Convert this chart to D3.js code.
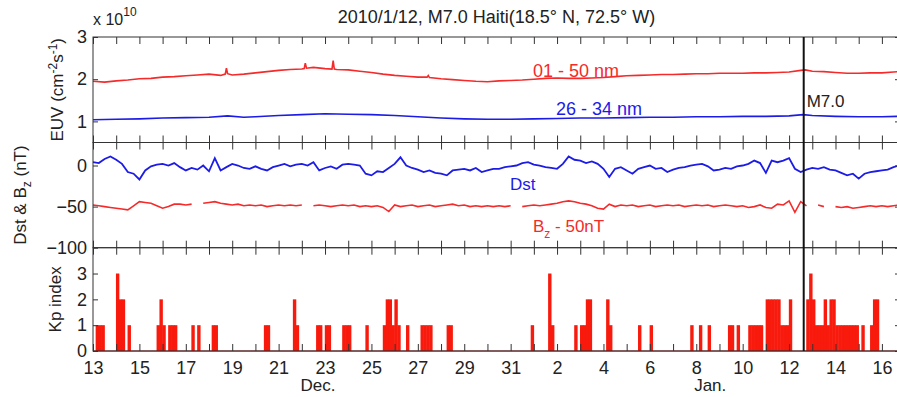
<!DOCTYPE html>
<html>
<head>
<meta charset="utf-8">
<script src="https://cdn.jsdelivr.net/npm/d3@7"></script>
<style>
  body { margin: 0; background: #fff; }
  text { font-family: "Liberation Sans", Arial, sans-serif; fill: #222; }
</style>
</head>
<body>
<div id="chart"></div>
<script>
// days are counted from 2009-12-13 00:00 UT
const xTickDays = [0, 2, 4, 6, 8, 10, 12, 14, 16, 18, 20, 22, 24, 26, 28, 30, 32, 34];
const xTickLabels = ['13', '15', '17', '19', '21', '23', '25', '27', '29', '31', '2', '4', '6', '8', '10', '12', '14', '16'];
const monthDays = [9.7, 26.6];
const monthLabels = ['Dec.', 'Jan.'];
const quakeDay = 30.63;

// EUV flux (x 1e10 cm^-2 s^-1)
const euvHiDay = [0, 0.5, 1, 1.5, 2, 2.5, 3, 3.5, 4, 4.5, 5, 5.5, 5.7, 5.75, 5.8, 6, 6.5, 7, 7.5, 8, 8.5, 9, 9.1, 9.15, 9.2,
  9.5, 10, 10.3, 10.35, 10.4, 10.5, 11, 11.5, 12, 12.5, 13, 13.5, 14, 14.4, 14.45, 14.5, 15, 15.5, 16, 16.5, 17, 17.5,
  18, 18.5, 19, 19.5, 20, 20.5, 21, 21.5, 22, 22.5, 23, 23.5, 24, 24.5, 25, 25.5, 26, 26.5, 27, 27.5, 28, 28.5, 29, 29.5,
  30, 30.5, 30.7, 31, 31.5, 32, 32.5, 33, 33.5, 34, 34.5, 34.8];
const euvHi = [1.95, 1.93, 1.96, 1.98, 2.01, 2.02, 2.05, 2.06, 2.08, 2.10, 2.12, 2.09, 2.12, 2.26, 2.13, 2.10, 2.12, 2.15, 2.18, 2.21, 2.23, 2.24, 2.25, 2.38, 2.26,
  2.28, 2.25, 2.24, 2.44, 2.24, 2.23, 2.22, 2.19, 2.16, 2.12, 2.09, 2.07, 2.05, 2.05, 2.09, 2.04, 2.01, 1.99, 1.97, 1.95, 1.94, 1.96,
  1.97, 1.98, 2.00, 2.02, 2.03, 2.02, 2.02, 2.03, 2.04, 2.06, 2.08, 2.09, 2.10, 2.11, 2.11, 2.12, 2.13, 2.13, 2.14, 2.14, 2.14, 2.15, 2.15, 2.16,
  2.17, 2.21, 2.22, 2.19, 2.18, 2.16, 2.14, 2.14, 2.15, 2.15, 2.17, 2.18];

const euvLoDay = [0, 1, 2, 3, 4, 5, 5.8, 6.5, 7, 8, 9, 10, 11, 12, 13, 14, 15, 16, 17, 18, 19, 20, 21, 22, 23, 24, 25,
  26, 27, 28, 29, 30, 30.6, 31, 32, 33, 34, 34.8];
const euvLo = [1.04, 1.05, 1.06, 1.08, 1.09, 1.10, 1.13, 1.10, 1.11, 1.14, 1.16, 1.18, 1.17, 1.16, 1.14, 1.11, 1.08, 1.06, 1.05, 1.05, 1.06, 1.07, 1.08, 1.08, 1.09, 1.10, 1.10,
  1.11, 1.11, 1.12, 1.12, 1.13, 1.16, 1.14, 1.12, 1.11, 1.11, 1.12];

// Dst and Bz-50 (nT), one value every 6 hours
const stepDays = 0.25;
const dst = [4, 3, 8, 11, 7, 2, -8, -10, -17, -6, -1, 1, 2, 0, 3, -2, -6, -3, -5, 0, -7, 9, -6, -2,
  2, 0, -3, -4, -1, -4, -6, -2, 0, 2, -1, 1, 2, 0, 4, -6, -3, -1, -4, 1, 2, 1, 0, -10,
  -12, -7, -8, -3, 2, 10, 0, -3, -5, -8, -6, -9, -10, -12, -6, -5, -4, -6, -3, -8, -6, -4, -4, -2,
  -1, 0, 3, 4, 1, 0, -2, -3, -4, 2, 11, 7, 6, 3, 5, 2, -4, -14, -4, -2, -6, -10, -4, -2,
  0, -4, -3, -8, -5, -3, -2, 0, 1, 2, -1, -6, -5, -3, -4, -1, 0, 2, 6, 3, -9, 6, 4, 6,
  9, -4, -8, -5, -3, -4, -2, -5, -6, -9, -12, -10, -16, -10, -8, -7, -6, -5, -2, 0];
const bz = [-48, -49, -50, -51, -52, -53, -54, -49, -44, -45, -46, -49, -52, -50, -47, -47, -48, -47, null, -46, -45, -44, -46, -47,
  -48, -47, -49, -48, -49, -48, -50, -49, -48, -49, -48, -49, -48, null, -49, -48, -49, -50, -49, -48, -49, -48, -50, -49,
  -50, -49, -51, -56, -48, -50, -49, -48, -50, -49, -48, -50, -49, -48, -47, -49, -48, -50, -49, -50, -49, -50, -49, -50,
  -49, null, -50, -49, -48, -49, -48, -47, -46, -44, -43, -44, -46, -47, -49, -52, -53, -47, -50, -48, -49, -48, -50, -49,
  -48, -50, -49, -48, -49, -48, -50, -49, -48, -49, -48, -50, -49, -48, -49, -50, -49, -51, -50, -48, -51, -52, -47, -48,
  -43, -57, -44, -49, null, -48, -50, null, -50, -51, -50, -52, -51, -50, -49, -50, -49, -50, -49, -48];

// Kp index, 3-hour intervals that are not zero (start day, value)
const kpDay = [0.125, 0.25, 0.375, 1.0, 1.125, 1.25, 1.5, 2.75, 2.875, 3.0, 3.25, 3.375, 3.5, 4.25, 4.5, 5.125, 5.25,
  7.375, 7.5, 8.625, 8.75, 9.625, 9.75, 10.0, 10.125, 10.75, 10.875, 11.0, 11.75,
  12.5, 12.625, 12.75, 12.875, 13.0, 13.125, 13.5, 14.125, 14.25, 14.375, 14.5, 15.25, 15.375,
  18.875, 19.625, 19.75, 20.75, 21.0, 21.125, 21.25, 21.375, 22.125, 22.25, 23.5, 24.0,
  25.75, 26.125, 26.5, 27.375, 27.5, 27.75, 28.25, 28.375, 28.5, 28.625, 28.75,
  29.0, 29.125, 29.25, 29.375, 29.5, 29.625, 29.75, 29.875, 30.0,
  30.75, 30.875, 31.0, 31.125, 31.25, 31.375, 31.5, 31.625, 31.75, 31.875,
  32.0, 32.125, 32.25, 32.375, 32.5, 32.625, 32.75, 32.875, 33.125, 33.5, 33.625, 33.75];
const kpValue = [1, 1, 1, 3, 2, 2, 1, 1, 2, 1, 1, 1, 1, 1, 1, 1, 1,
  1, 1, 2, 1, 1, 1, 1, 1, 1, 1, 1, 1,
  1, 2, 2, 1, 2, 1, 1, 1, 1, 1, 1, 1, 1,
  1, 3, 1, 1, 1, 1, 2, 2, 2, 1, 1, 1,
  1, 1, 1, 1, 1, 1, 1, 1, 1, 1, 1,
  2, 2, 2, 2, 2, 1, 1, 1, 2,
  2, 3, 2, 1, 1, 1, 2, 1, 2, 2,
  1, 1, 1, 1, 1, 1, 1, 1, 1, 1, 2, 2];

const width = 897;
const height = 397;
const left = 93, right = 900;
const tops = [37, 142.5, 247.7];
const bottom = 351;
const red = '#f52a2a', blue = '#1c1ce6', axisColor = '#333';

const svg = d3.select('#chart')
  .append('svg')
  .attr('width', width)
  .attr('height', height);

const x = d3.scaleLinear().domain([0, 34.78]).range([left, right]);
const yEuv = d3.scaleLinear().domain([0.5, 3]).range([tops[1], tops[0]]);
const yDst = d3.scaleLinear().domain([-100, 28]).range([tops[2], tops[1]]);
const yKp = d3.scaleLinear().domain([0, 4]).range([bottom, tops[2]]);

const panels = [
  { y: yEuv, ticks: [1, 2, 3] },
  { y: yDst, ticks: [-100, -50, 0] },
  { y: yKp, ticks: [0, 1, 2, 3] }
];

// Kp bars, a little overlap so neighbours merge
svg.append('g')
  .attr('fill', '#f81a0c')
  .selectAll('rect')
  .data(kpDay)
  .join('rect')
    .attr('x', d => x(d) - 0.25)
    .attr('y', (d, i) => yKp(kpValue[i]))
    .attr('width', d => x(d + 0.125) - x(d) + 0.5)
    .attr('height', (d, i) => yKp(0) - yKp(kpValue[i]));

// lines
const euvLine = (days, vals) => d3.line()
  .x((d, i) => x(days[i]))
  .y(d => yEuv(d))(vals);

svg.append('path')
  .attr('d', euvLine(euvHiDay, euvHi))
  .attr('fill', 'none').attr('stroke', red).attr('stroke-width', 1.6);
svg.append('path')
  .attr('d', euvLine(euvLoDay, euvLo))
  .attr('fill', 'none').attr('stroke', blue).attr('stroke-width', 1.6);

const stepLine = d3.line()
  .defined(d => d !== null)
  .x((d, i) => x(i * stepDays))
  .y(d => yDst(d));

svg.append('path')
  .attr('d', stepLine(dst))
  .attr('fill', 'none').attr('stroke', blue).attr('stroke-width', 1.8);
svg.append('path')
  .attr('d', stepLine(bz))
  .attr('fill', 'none').attr('stroke', red).attr('stroke-width', 1.6);

// Kp baseline
svg.append('line')
  .attr('x1', left).attr('x2', right)
  .attr('y1', bottom).attr('y2', bottom)
  .attr('stroke', '#a01010').attr('stroke-width', 1.2);

// panel frames and ticks
const dayTicks = d3.range(0, 35);
panels.forEach((p, k) => {
  const y0 = p.y.range()[0], y1 = p.y.range()[1];
  svg.append('rect')
    .attr('x', left).attr('y', y1)
    .attr('width', right - left).attr('height', y0 - y1)
    .attr('fill', 'none').attr('stroke', axisColor).attr('stroke-width', 1);

  svg.append('g')
    .attr('transform', `translate(0,${y1})`)
    .call(d3.axisBottom(x).tickValues(dayTicks).tickSize(7).tickFormat(''))
    .call(g => g.select('.domain').remove())
    .selectAll('line').attr('stroke', axisColor);
  svg.append('g')
    .attr('transform', `translate(0,${y0})`)
    .call(d3.axisTop(x).tickValues(dayTicks).tickSize(7).tickFormat(''))
    .call(g => g.select('.domain').remove())
    .selectAll('line').attr('stroke', axisColor);

  const ya = svg.append('g')
    .attr('transform', `translate(${left},0)`)
    .call(d3.axisLeft(p.y).tickValues(p.ticks).tickSize(-5).tickPadding(6).tickFormat(d3.format('d')))
    .call(g => g.select('.domain').remove());
  ya.selectAll('line').attr('stroke', axisColor);
  ya.selectAll('text').attr('font-size', 18).attr('font-family', null);

  svg.append('g')
    .attr('transform', `translate(${right},0)`)
    .call(d3.axisRight(p.y).tickValues(p.ticks).tickSize(-5).tickFormat(''))
    .call(g => g.select('.domain').remove())
    .selectAll('line').attr('stroke', axisColor);
});

// x labels
const xa = svg.append('g')
  .attr('transform', `translate(0,${bottom})`)
  .call(d3.axisBottom(x).tickValues(xTickDays).tickFormat((d, i) => xTickLabels[i]).tickSize(0).tickPadding(10))
  .call(g => g.select('.domain').remove());
xa.selectAll('text').attr('font-size', 18).attr('font-family', null);

svg.selectAll('.month')
  .data(monthDays)
  .join('text')
    .attr('class', 'month')
    .attr('x', d => x(d))
    .attr('y', 391)
    .attr('text-anchor', 'middle')
    .attr('font-size', 17)
    .text((d, i) => monthLabels[i]);

// earthquake line
svg.append('line')
  .attr('x1', x(quakeDay)).attr('x2', x(quakeDay))
  .attr('y1', tops[0]).attr('y2', bottom)
  .attr('stroke', '#111').attr('stroke-width', 2);
svg.append('text')
  .attr('x', x(quakeDay) + 3).attr('y', 107)
  .attr('font-size', 17)
  .text('M7.0');

// title and scale factor
svg.append('text')
  .attr('x', (left + right) / 2).attr('y', 23)
  .attr('text-anchor', 'middle')
  .attr('font-size', 18)
  .text('2010/1/12, M7.0 Haiti(18.5° N, 72.5° W)');

const sf = svg.append('text').attr('x', left).attr('y', 25).attr('font-size', 16);
sf.append('tspan').text('x 10');
sf.append('tspan').attr('dy', -9).attr('font-size', 12).text('10');

// series annotations
svg.append('text').attr('x', 533).attr('y', 77).attr('font-size', 18)
  .style('fill', red).text('01 - 50 nm');
svg.append('text').attr('x', 556).attr('y', 115).attr('font-size', 18)
  .style('fill', blue).text('26 - 34 nm');
svg.append('text').attr('x', 510).attr('y', 190).attr('font-size', 17)
  .style('fill', blue).text('Dst');
const bzLabel = svg.append('text').attr('x', 533).attr('y', 232).attr('font-size', 17)
  .style('fill', red);
bzLabel.append('tspan').text('B');
bzLabel.append('tspan').attr('dy', 6).attr('font-size', 12).text('z');
bzLabel.append('tspan').attr('dy', -6).text(' - 50nT');

// y titles
const euvTitle = svg.append('text')
  .attr('transform', `translate(63,${(tops[0] + tops[1]) / 2}) rotate(-90)`)
  .attr('text-anchor', 'middle')
  .attr('font-size', 17);
euvTitle.append('tspan').text('EUV (cm');
euvTitle.append('tspan').attr('dy', -6).attr('font-size', 12).text('-2');
euvTitle.append('tspan').attr('dy', 6).text('s');
euvTitle.append('tspan').attr('dy', -6).attr('font-size', 12).text('-1');
euvTitle.append('tspan').attr('dy', 6).text(')');

const dstTitle = svg.append('text')
  .attr('transform', `translate(26,${(tops[1] + tops[2]) / 2}) rotate(-90)`)
  .attr('text-anchor', 'middle')
  .attr('font-size', 17);
dstTitle.append('tspan').text('Dst & B');
dstTitle.append('tspan').attr('dy', 5).attr('font-size', 12).text('z');
dstTitle.append('tspan').attr('dy', -5).text(' (nT)');

svg.append('text')
  .attr('transform', `translate(61,${(tops[2] + bottom) / 2}) rotate(-90)`)
  .attr('text-anchor', 'middle')
  .attr('font-size', 17)
  .text('Kp index');
</script>
</body>
</html>
